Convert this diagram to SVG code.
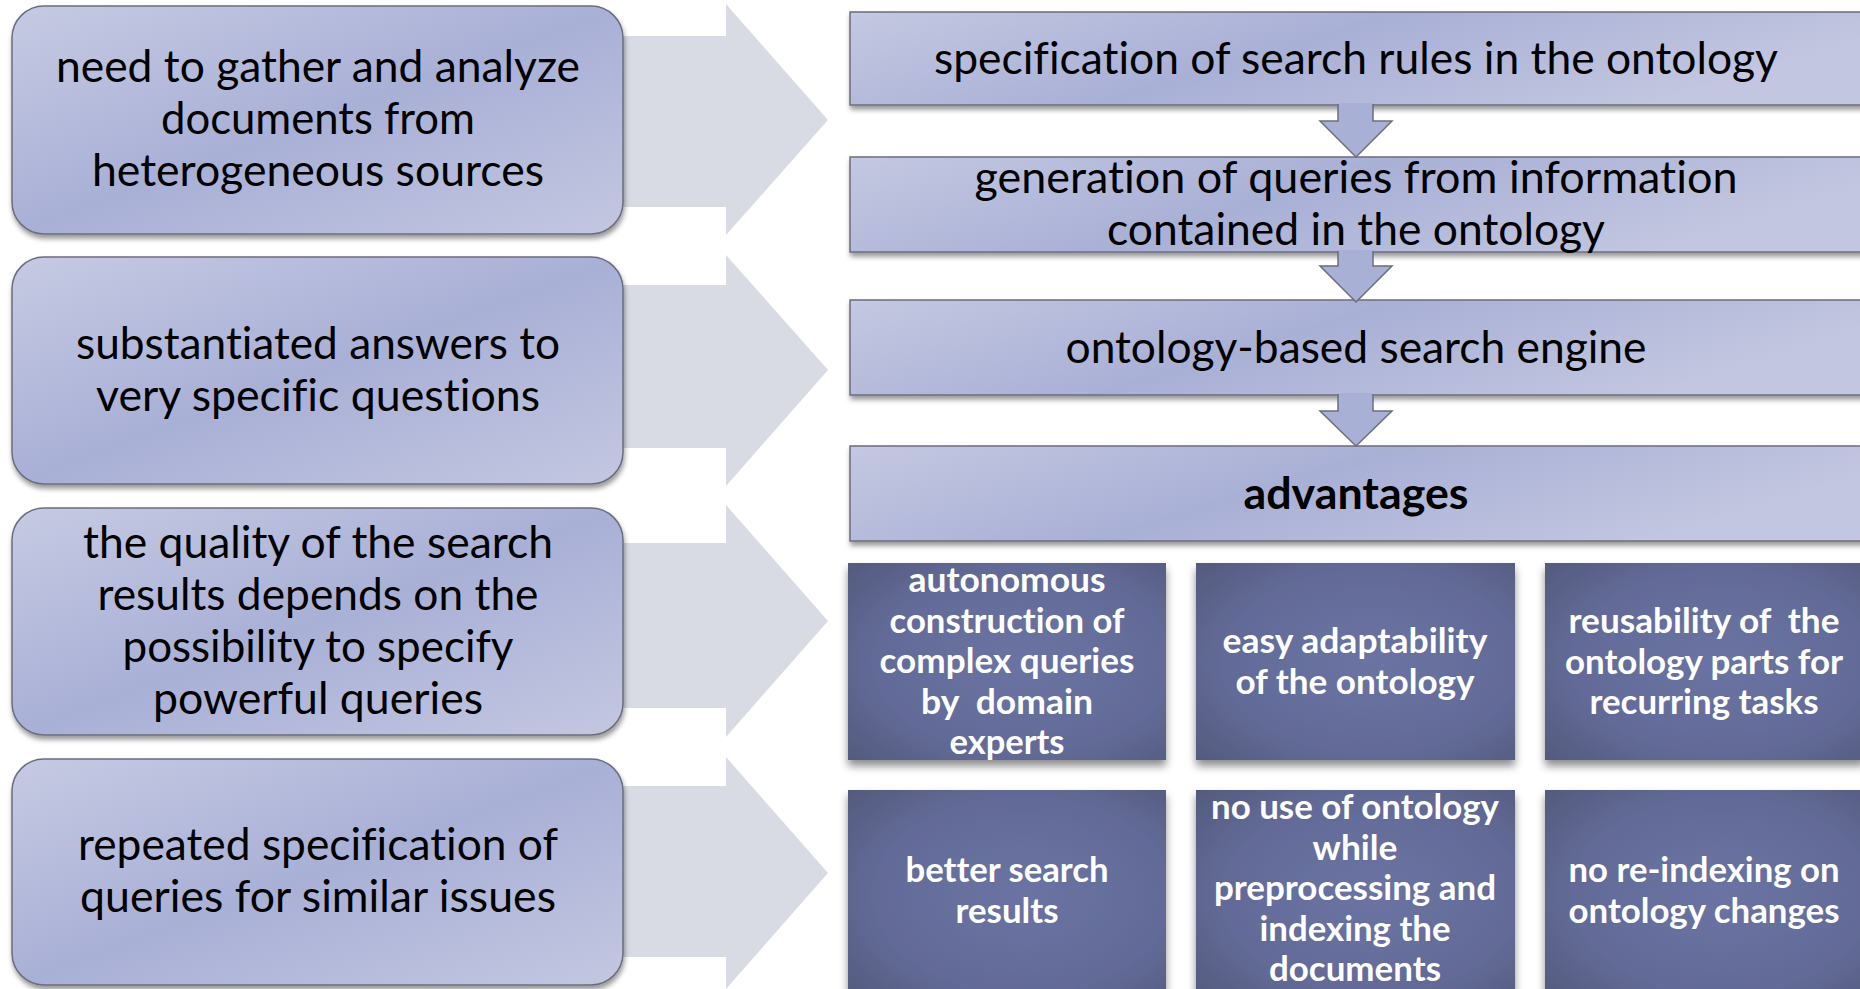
<svg xmlns="http://www.w3.org/2000/svg" width="1860" height="989" viewBox="0 0 1860 989">
<style>
text{font-variant-ligatures:none;font-feature-settings:"liga" 0,"clig" 0}
.t{font-family:Lato,"Open Sans","Liberation Sans",sans-serif;font-size:44px;fill:#000;text-anchor:middle}
.b{font-family:Lato,"Open Sans","Liberation Sans",sans-serif;font-size:44px;font-weight:bold;fill:#000;text-anchor:middle}
.w{font-family:Lato,"Open Sans","Liberation Sans",sans-serif;font-size:34px;font-weight:bold;fill:#fff;text-anchor:middle}
.lb{fill:url(#lav);stroke:#6b6e7c;stroke-width:1.5;filter:url(#sh)}
.rb{fill:url(#lav2);stroke:#6b6e7c;stroke-width:1.5;filter:url(#sh)}
.db{fill:url(#dark);filter:url(#sh2)}
.ga{fill:#d8dbe3}
.dfill{fill:#a9b0d6}
.dline{fill:none;stroke:#6b6e7c;stroke-width:1.5;stroke-linejoin:miter}
</style>
<defs>
<linearGradient id="lav" x1="0" y1="0" x2="1" y2="1">
<stop offset="0" stop-color="#c6cae3"/>
<stop offset="0.5" stop-color="#a9b0d6"/>
<stop offset="1" stop-color="#c3c7e1"/>
</linearGradient>
<linearGradient id="lav2" x1="0" y1="0" x2="1" y2="0.3">
<stop offset="0" stop-color="#c4c8e1"/>
<stop offset="0.5" stop-color="#a9b0d6"/>
<stop offset="1" stop-color="#c2c6e0"/>
</linearGradient>
<radialGradient id="dark" cx="0.55" cy="0.5" r="0.75">
<stop offset="0" stop-color="#6a73a2"/>
<stop offset="0.6" stop-color="#636b98"/>
<stop offset="1" stop-color="#525a7c"/>
</radialGradient>
<filter id="sh" x="-5%" y="-10%" width="110%" height="125%">
<feDropShadow dx="1" dy="4" stdDeviation="2.5" flood-color="#000" flood-opacity="0.4"/>
</filter>
<filter id="sh2" x="-5%" y="-10%" width="110%" height="125%">
<feDropShadow dx="0" dy="6" stdDeviation="4" flood-color="#000" flood-opacity="0.45"/>
</filter>
</defs>
<rect width="1860" height="989" fill="#fff"/>

<g id="side-arrows">
<polygon class="ga" points="540,36 726,36 726,4 828,120 726,235 726,207 540,207"/>
<polygon class="ga" points="540,285 726,285 726,255 828,370 726,486 726,448 540,448"/>
<polygon class="ga" points="540,543 726,543 726,505 828,621 726,737 726,708 540,708"/>
<polygon class="ga" points="540,786 726,786 726,757 828,873 726,989 726,957 540,957"/>
</g>

<g id="need-1">
<rect class="lb" x="12" y="6" width="611" height="228" rx="32"/>
<text class="t" x="318" y="82" textLength="524" lengthAdjust="spacingAndGlyphs">need to gather and analyze</text>
<text class="t" x="318" y="134" textLength="314" lengthAdjust="spacingAndGlyphs">documents from</text>
<text class="t" x="318" y="186" textLength="452" lengthAdjust="spacingAndGlyphs">heterogeneous sources</text>
</g>
<g id="need-2">
<rect class="lb" x="12" y="257" width="611" height="227" rx="32"/>
<text class="t" x="318" y="358.5" textLength="484" lengthAdjust="spacingAndGlyphs">substantiated answers to</text>
<text class="t" x="318" y="410.5" textLength="444" lengthAdjust="spacingAndGlyphs">very specific questions</text>
</g>
<g id="need-3">
<rect class="lb" x="12" y="508" width="611" height="227" rx="32"/>
<text class="t" x="318" y="558" textLength="470" lengthAdjust="spacingAndGlyphs">the quality of the search</text>
<text class="t" x="318" y="610" textLength="441" lengthAdjust="spacingAndGlyphs">results depends on the</text>
<text class="t" x="318" y="662" textLength="391" lengthAdjust="spacingAndGlyphs">possibility to specify</text>
<text class="t" x="318" y="714" textLength="330" lengthAdjust="spacingAndGlyphs">powerful queries</text>
</g>
<g id="need-4">
<rect class="lb" x="12" y="759" width="611" height="226" rx="32"/>
<text class="t" x="318" y="860" textLength="480" lengthAdjust="spacingAndGlyphs">repeated specification of</text>
<text class="t" x="318" y="912" textLength="476" lengthAdjust="spacingAndGlyphs">queries for similar issues</text>
</g>

<g id="step-rules">
<rect class="rb" x="850" y="12" width="1014" height="93"/>
<text class="t" x="1356" y="74" textLength="844" lengthAdjust="spacingAndGlyphs">specification of search rules in the ontology</text>
</g>
<g id="step-queries">
<rect class="rb" x="850" y="157" width="1014" height="95"/>
<text class="t" x="1356" y="192.5" textLength="763" lengthAdjust="spacingAndGlyphs">generation of queries from information</text>
<text class="t" x="1356" y="245" textLength="498" lengthAdjust="spacingAndGlyphs">contained in the ontology</text>
</g>
<g id="step-engine">
<rect class="rb" x="850" y="300" width="1014" height="95"/>
<text class="t" x="1356" y="363" textLength="581" lengthAdjust="spacingAndGlyphs">ontology-based search engine</text>
</g>
<g id="step-advantages">
<rect class="rb" x="850" y="446" width="1014" height="95"/>
<text class="b" x="1356" y="509" textLength="225" lengthAdjust="spacingAndGlyphs">advantages</text>
</g>

<g id="connectors">
<polygon class="dfill" points="1338,103 1373,103 1373,121 1392,121 1356,157 1320,121 1338,121"/>
<polyline class="dline" points="1338,104 1338,121 1320,121 1356,157 1392,121 1373,121 1373,104"/>
<polygon class="dfill" points="1338,250 1373,250 1373,266 1392,266 1356,302 1320,266 1338,266"/>
<polyline class="dline" points="1338,251 1338,266 1320,266 1356,302 1392,266 1373,266 1373,251"/>
<polygon class="dfill" points="1338,393 1373,393 1373,411 1392,411 1356,446 1320,411 1338,411"/>
<polyline class="dline" points="1338,394 1338,411 1320,411 1356,446 1392,411 1373,411 1373,394"/>
</g>

<g id="adv-autonomous">
<rect class="db" x="848" y="563" width="318" height="197"/>
<text class="w" x="1007" y="592" textLength="197" lengthAdjust="spacingAndGlyphs">autonomous</text>
<text class="w" x="1007" y="632.5" textLength="235" lengthAdjust="spacingAndGlyphs">construction of</text>
<text class="w" x="1007" y="673" textLength="255" lengthAdjust="spacingAndGlyphs">complex queries</text>
<text class="w" x="1007" y="713.5" textLength="172" lengthAdjust="spacingAndGlyphs" xml:space="preserve">by  domain</text>
<text class="w" x="1007" y="754" textLength="115" lengthAdjust="spacingAndGlyphs">experts</text>
</g>
<g id="adv-adaptability">
<rect class="db" x="1196" y="563" width="319" height="197"/>
<text class="w" x="1355" y="653" textLength="265" lengthAdjust="spacingAndGlyphs">easy adaptability</text>
<text class="w" x="1355" y="694" textLength="239" lengthAdjust="spacingAndGlyphs">of the ontology</text>
</g>
<g id="adv-reusability">
<rect class="db" x="1545" y="563" width="320" height="197"/>
<text class="w" x="1704" y="633" textLength="271" lengthAdjust="spacingAndGlyphs" xml:space="preserve">reusability of  the</text>
<text class="w" x="1704" y="673.5" textLength="278" lengthAdjust="spacingAndGlyphs">ontology parts for</text>
<text class="w" x="1704" y="714" textLength="229" lengthAdjust="spacingAndGlyphs">recurring tasks</text>
</g>
<g id="adv-better-results">
<rect class="db" x="848" y="790" width="318" height="210"/>
<text class="w" x="1007" y="882" textLength="203" lengthAdjust="spacingAndGlyphs">better search</text>
<text class="w" x="1007" y="922.5" textLength="103" lengthAdjust="spacingAndGlyphs">results</text>
</g>
<g id="adv-no-preprocessing">
<rect class="db" x="1196" y="790" width="319" height="210"/>
<text class="w" x="1355" y="819" textLength="288" lengthAdjust="spacingAndGlyphs">no use of ontology</text>
<text class="w" x="1355" y="859.5" textLength="85" lengthAdjust="spacingAndGlyphs">while</text>
<text class="w" x="1355" y="900" textLength="282" lengthAdjust="spacingAndGlyphs">preprocessing and</text>
<text class="w" x="1355" y="940.5" textLength="191" lengthAdjust="spacingAndGlyphs">indexing the</text>
<text class="w" x="1355" y="981" textLength="172" lengthAdjust="spacingAndGlyphs">documents</text>
</g>
<g id="adv-no-reindexing">
<rect class="db" x="1545" y="790" width="320" height="210"/>
<text class="w" x="1704" y="882" textLength="271" lengthAdjust="spacingAndGlyphs">no re-indexing on</text>
<text class="w" x="1704" y="922.5" textLength="271" lengthAdjust="spacingAndGlyphs">ontology changes</text>
</g>
</svg>
